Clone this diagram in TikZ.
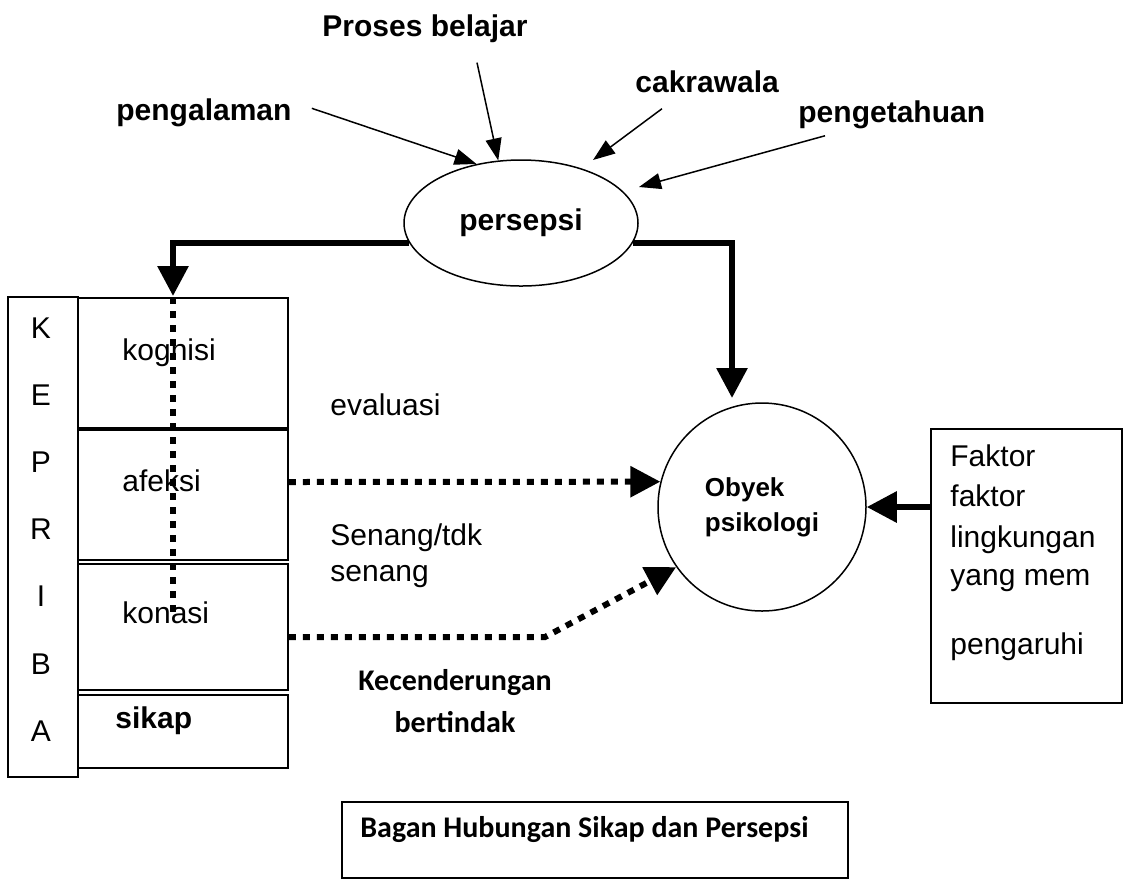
\documentclass[tikz,border=0pt]{standalone}
\usepackage{fontspec}
\setmainfont{Liberation Sans}
\newfontfamily\calibrifont{Carlito}
\usetikzlibrary{arrows.meta,shapes.geometric,positioning}
\tikzset{
  lbl/.style={font=\bfseries\fontsize{15}{18}\selectfont,inner sep=0pt},
  txt/.style={font=\fontsize{15}{18}\selectfont,inner sep=0pt},
  cal/.style={font=\calibrifont\bfseries\fontsize{15}{21}\selectfont,inner sep=0pt},
  pbox/.style={draw,line width=0.75pt,inner sep=0pt},
  thinarr/.style={-{Triangle[length=11pt,width=8pt]},line width=0.75pt},
  thickarr/.style={-{Triangle[length=15pt,width=15pt]},line width=3pt},
  dotline/.style={line width=3pt,dash pattern=on 3.5pt off 3.5pt},
  dotarr/.style={dotline,-{Triangle[length=15pt,width=15pt]}},
}
\begin{document}
\begin{tikzpicture}[x=0.5pt,y=-0.5pt]
  \useasboundingbox (0,0) rectangle (1139,880);
  %% Persepsi and its inputs
  \node[pbox,ellipse,minimum width=117pt,minimum height=63pt,font=\bfseries\fontsize{15}{18}\selectfont] (pers) at (521,223) {persepsi};
  \node[lbl,anchor=base] (proses) at (425,36) {Proses belajar};
  \node[lbl,anchor=base west] (pengal) at (116,120) {pengalaman};
  \node[lbl,anchor=base west] (cakra) at (635,92) {cakrawala};
  \node[lbl,anchor=base west] (penget) at (798,122) {pengetahuan};
  \coordinate (tipCak) at (593,160);
  \coordinate (tipPen) at (639,187);
  \draw[thinarr] ([xshift=10pt,yshift=2pt]pengal.east) -- (pers.127);
  \draw[thinarr] ([xshift=26pt,yshift=-10pt]proses.south) -- (pers.110);
  \draw[thinarr] ([xshift=13.5pt,yshift=-8pt]cakra.south west) -- (tipCak);
  \draw[thinarr] ([xshift=13.5pt,yshift=-3.5pt]penget.south west) -- (tipPen);
  %% Kepribadian
  \node[pbox,minimum width=35pt,minimum height=240pt] (kep) at (43,537) {};
  \foreach \ch [count=\i from 0] in {K,E,P,R,I,B,A}
    \node[txt,anchor=base] (kep\i) at (41,{338+67.2*\i}) {\ch};
  \node[pbox,minimum width=105pt,minimum height=65pt] (kog) at (183,363) {};
  \node[pbox,minimum width=105pt,minimum height=65pt] (afek) at (183,495) {};
  \node[pbox,minimum width=105pt,minimum height=63pt] (kona) at (183,627) {};
  \node[pbox,minimum width=105pt,minimum height=36.5pt] (sikap) at (183,731.5) {};
  \node[txt,anchor=base west] (kogT) at (122,360) {kognisi};
  \node[txt,anchor=base west] (afekT) at (122,491) {afeksi};
  \node[txt,anchor=base west] (konaT) at (122,623) {konasi};
  \node[lbl,anchor=base west] (sikapT) at (115,728) {sikap};
  %% Persepsi to kognisi and obyek
  \coordinate (kogIn) at (173,296);
  \coordinate (obyIn) at (732,398);
  \draw[thickarr] (pers.190) -| (kogIn);
  \draw[thickarr] (pers.350) -| (obyIn);
  \coordinate (dotTop) at (173,297);
  \coordinate (dotBot) at (173,612);
  \draw[dotline] (dotTop) -- (dotBot);
  %% Obyek psikologi
  \node[pbox,circle,minimum size=104pt,align=left,font=\bfseries\fontsize{13}{17.5}\selectfont] (oby) at (762,507) {Obyek\\psikologi};
  \node[pbox,minimum width=95.5pt,minimum height=137pt] (fak) at (1026.5,566) {};
  \foreach \ln/\yy [count=\i] in {Faktor/466,faktor/506,lingkungan/547,yang mem/585,pengaruhi/654}
    \node[txt,anchor=base west] (fak\i) at (950,\yy) {\ln};
  \draw[thickarr] (fak.west |- oby.center) -- (oby.east);
  \draw[dotarr] ([yshift=6.5pt]afek.east) -- (oby.166);
  \coordinate (konBend) at (545,637);
  \draw[dotarr] ([yshift=-5pt]kona.east) -- (konBend) -- (oby.215);
  %% Labels between
  \node[txt,anchor=base west] (eval) at (330,415) {evaluasi};
  \node[txt,anchor=base west] (sen1) at (330,545) {Senang/tdk};
  \node[txt,anchor=base west] (sen2) at (330,581) {senang};
  \node[cal,anchor=base] (kec1) at (455,690) {Kecenderungan};
  \node[cal,anchor=base] (kec2) at (455,732) {bertindak};
  %% Caption
  \node[pbox,minimum width=253pt,minimum height=38pt] (cap) at (595,840) {};
  \node[cal,anchor=base west] (capT) at (360,837) {Bagan Hubungan Sikap dan Persepsi};
\end{tikzpicture}
\end{document}
